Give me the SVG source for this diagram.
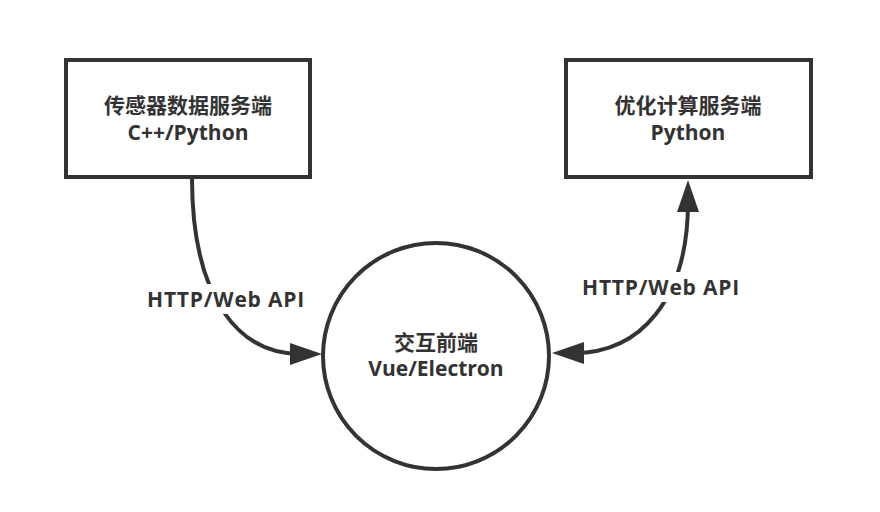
<svg xmlns="http://www.w3.org/2000/svg" width="880" height="512" viewBox="0 0 880 512">
<style>
.box{fill:#fff;stroke:#333;stroke-width:4}
.t{font-family:"Open Sans","Noto Sans CJK SC",sans-serif;font-weight:bold;fill:#333;text-anchor:middle}
.n{font-size:21px}
.l{font-size:21px;letter-spacing:0.8px}
.c{fill:none;stroke:#333;stroke-width:4}
</style>
<defs>
<marker id="ah" viewBox="0 0 32 22" refX="10" refY="11" markerWidth="32" markerHeight="22" markerUnits="userSpaceOnUse" orient="auto-start-reverse">
<path d="M0,0 L32,11 L0,22 z" fill="#333"/>
</marker>
</defs>
<rect width="880" height="512" fill="#fff"/>
<g id="connectors">
<path class="c" d="M192,178 C192,300 240,354 300,354" marker-end="url(#ah)"/>
<path class="c" d="M574,353 C640,353 688,300 688,202" marker-start="url(#ah)" marker-end="url(#ah)"/>
<rect x="142" y="284" width="170" height="30" fill="#fff"/>
<text class="t l" x="226" y="307">HTTP/Web API</text>
<rect x="576" y="272" width="170" height="30" fill="#fff"/>
<text class="t l" x="661" y="295">HTTP/Web API</text>
</g>
<g id="sensor">
<rect class="box" x="66" y="60" width="244" height="117"/>
<text class="t n" x="188" y="113">传感器数据服务端</text>
<text class="t n" x="188" y="140">C++/Python</text>
</g>
<g id="optim">
<rect class="box" x="566" y="60" width="245" height="117"/>
<text class="t n" x="688" y="113">优化计算服务端</text>
<text class="t n" x="688" y="140">Python</text>
</g>
<g id="frontend">
<circle class="box" cx="436" cy="356" r="113"/>
<text class="t n" x="436" y="350">交互前端</text>
<text class="t n" x="436" y="376">Vue/Electron</text>
</g>
</svg>
